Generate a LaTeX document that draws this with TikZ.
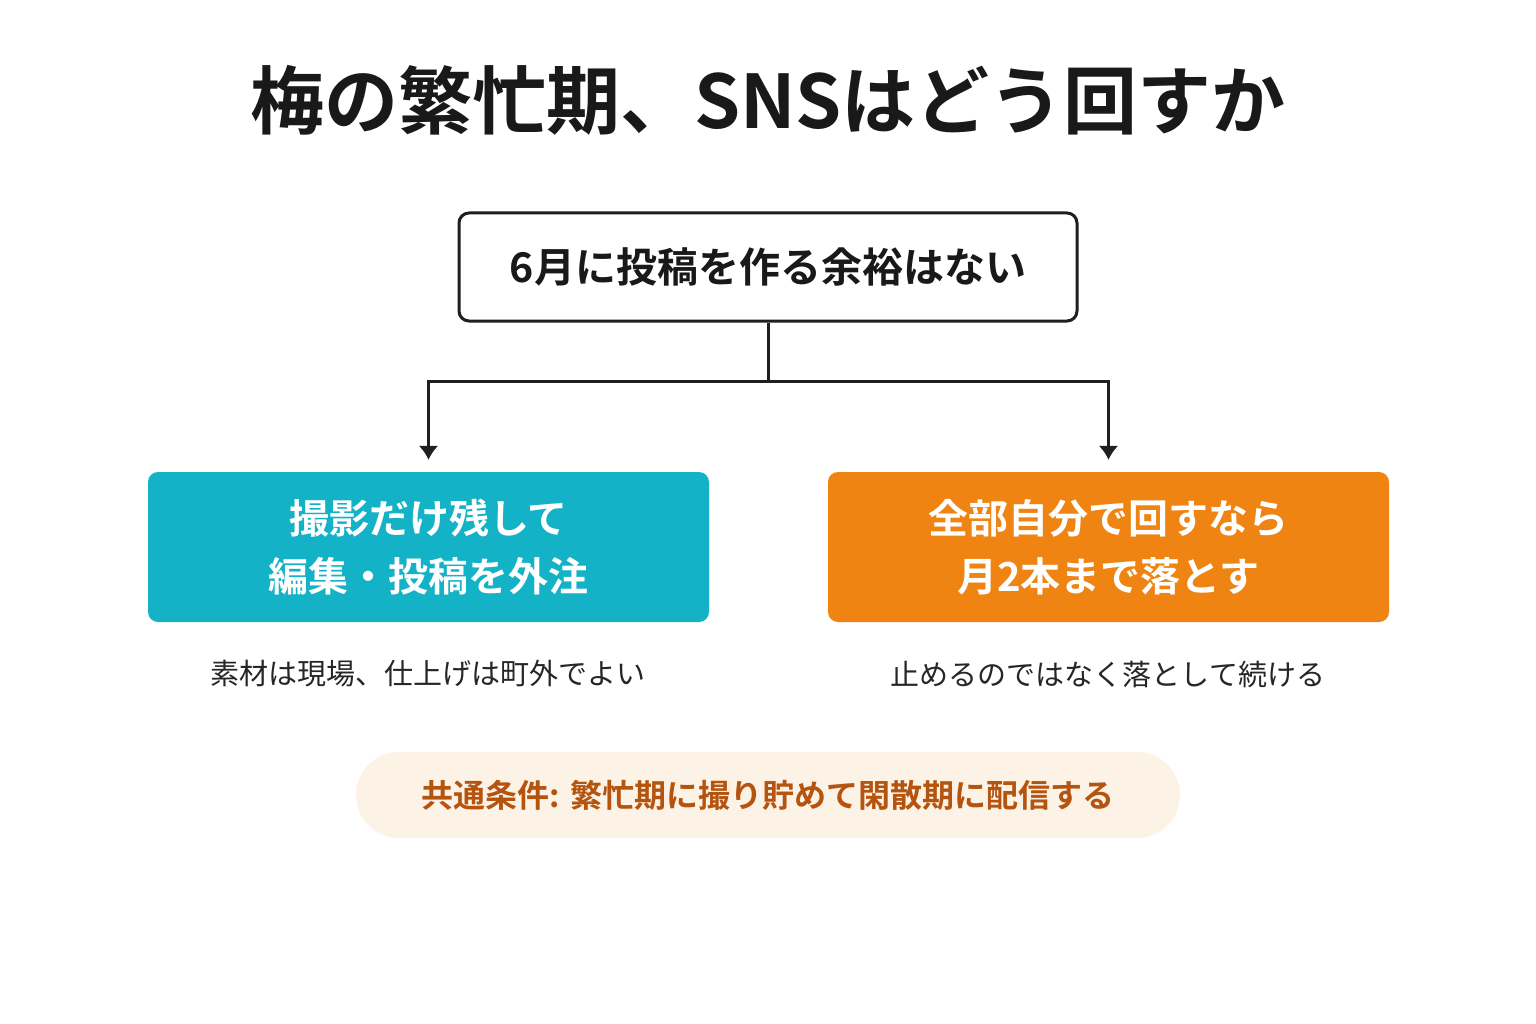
\documentclass[tikz,border=0pt]{standalone}
\usepackage{fontspec}
\usetikzlibrary{arrows.meta}
\setmainfont{Noto Sans CJK JP}
\newfontfamily\jpb{Noto Sans CJK JP Bold}
\begin{document}
\begin{tikzpicture}[x=1pt,y=-1pt,
  box/.style={rounded corners=10pt,minimum width=561pt,minimum height=150pt,align=center,inner sep=0pt},
  lbl/.style={font=\jpb\fontsize{40}{58}\selectfont,text=white},
  captxt/.style={font=\fontsize{29}{34}\selectfont,text=black!85},
  conn/.style={line width=3pt,draw=black!88}]
\useasboundingbox[fill=white] (0,0) rectangle (1536,1024);
\node[font=\jpb\fontsize{74}{80}\selectfont,text=black!90] (title) at (768,100) {梅の繁忙期、SNSはどう回すか};
\node[draw=black!88,line width=3pt,fill=white,rounded corners=10pt,minimum width=618pt,minimum height=108pt,font=\jpb\fontsize{41}{48}\selectfont,text=black!90] (top) at (768,267) {6月に投稿を作る余裕はない};
\node[box,fill={rgb,255:red,19;green,178;blue,198},lbl] (left) at (428.5,547) {撮影だけ残して\\編集・投稿を外注};
\node[box,fill={rgb,255:red,239;green,132;blue,19},lbl] (right) at (1108.5,547) {全部自分で回すなら\\月2本まで落とす};
\node[captxt] (lc) at (428,674) {素材は現場、仕上げは町外でよい};
\node[captxt] (rc) at (1108,674) {止めるのではなく落として続ける};
\node[fill={rgb,255:red,253;green,242;blue,230},rounded corners=43pt,minimum width=824pt,minimum height=86pt,font=\jpb\fontsize{32}{38}\selectfont,text={rgb,255:red,181;green,84;blue,15}] (bottom) at (768,795) {共通条件: 繁忙期に撮り貯めて閑散期に配信する};
\coordinate (j) at (768,381);
\draw[conn] (top.south) -- (j);
\draw[conn,-{Latex[length=14pt,width=20pt]},shorten >=12pt] (j) -| (left.north);
\draw[conn,-{Latex[length=14pt,width=20pt]},shorten >=12pt] (j) -| (right.north);
\end{tikzpicture}
\end{document}
